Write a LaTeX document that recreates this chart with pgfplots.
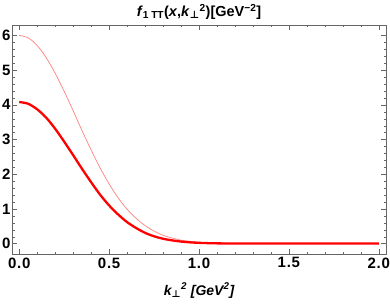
\documentclass[border=0pt]{standalone}
\usepackage{fontspec}
\setmainfont{Liberation Sans}
\newfontfamily\dejavu{DejaVu Sans}
\newfontfamily\tickfont[LetterSpace=5]{Liberation Sans}
\usepackage{pgfplots}
\pgfplotsset{compat=1.18}
\newcommand{\perpsym}{{\dejavu\bfseries ⊥}}
\newcommand{\tf}{\tickfont\fontsize{15}{17}\selectfont\bfseries}
\begin{document}
\begin{tikzpicture}
\begin{axis}[name=ax,
  scale only axis, width=374pt, height=229pt,
  xmin=-0.04, xmax=2.04, ymin=-0.3, ymax=6.3,
  axis line style={draw=black!60, line width=0.8pt},
  tick style={draw=black!60},
  tick align=inside,
  xtick={0,0.5,1,1.5,2}, ytick={0,1,2,3,4,5,6},
  xticklabels={{\tf 0.0},{\tf 0.5},{\tf 1.0},{\tf 1.5},{\tf 2.0}},
  yticklabels={{\tf 0},{\tf 1},{\tf 2},{\tf 3},{\tf 4},{\tf 5},{\tf 6}},
  minor x tick num=4, minor y tick num=4,
  major tick length=5pt, minor tick length=2.5pt,
  tick label style={text=black},
  x tick label style={yshift=0pt},
  y tick label style={xshift=2pt},
  title={\fontsize{14.5}{17}\selectfont\bfseries\textit{f}\textsubscript{1 TT}(\textit{x},\textit{k}\textsubscript{\perpsym}\textsuperscript{2})[GeV\textsuperscript{−2}]},
  title style={yshift=-4pt},
  xlabel={\fontsize{14}{16}\selectfont\bfseries\itshape k\textsubscript{\perpsym}\textsuperscript{2} [GeV\textsuperscript{2}]},
  xlabel style={yshift=-8pt},
]
\addplot[red!50, line width=0.7pt, smooth] coordinates {
(0,6.00)(0.05,5.93)(0.1,5.71)(0.15,5.36)(0.2,4.91)(0.25,4.39)(0.3,3.83)(0.35,3.25)
(0.4,2.70)(0.45,2.18)(0.5,1.72)(0.55,1.32)(0.6,0.99)(0.65,0.73)(0.7,0.52)(0.75,0.36)
(0.8,0.24)(0.85,0.16)(0.9,0.10)(0.95,0.066)(1.0,0.04)(1.05,0.025)(1.1,0.014)(1.2,0.004)
(1.3,0.001)(1.4,0)(1.6,0)(1.8,0)(2.0,0)};
\addplot[red, line width=2.3pt, smooth] coordinates {
(0,4.08)(0.05,4.03)(0.1,3.87)(0.15,3.63)(0.2,3.31)(0.25,2.94)(0.3,2.55)(0.35,2.15)
(0.4,1.77)(0.45,1.41)(0.5,1.10)(0.55,0.84)(0.6,0.62)(0.65,0.45)(0.7,0.31)(0.75,0.21)
(0.8,0.14)(0.85,0.093)(0.9,0.059)(0.95,0.036)(1.0,0.022)(1.05,0.013)(1.1,0.007)(1.2,0.002)
(1.3,0)(1.4,0)(1.6,0)(1.8,0)(2.0,0)};
\end{axis}
\pgfresetboundingbox
\path[use as bounding box] ([xshift=-12pt,yshift=-49pt]ax.south west) rectangle ([xshift=4pt,yshift=25pt]ax.north east);
\end{tikzpicture}
\end{document}
